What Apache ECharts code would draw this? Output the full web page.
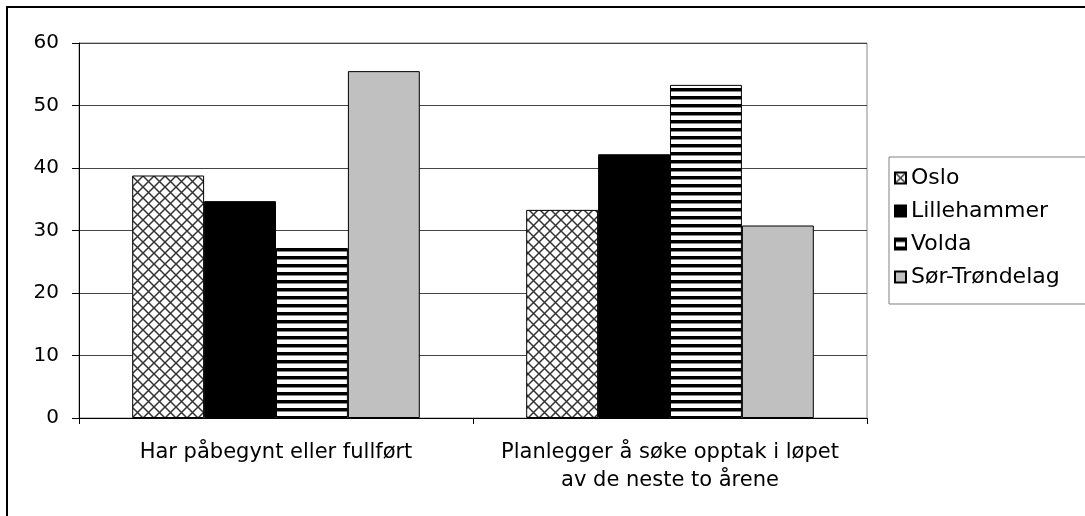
<!DOCTYPE html>
<html>
<head>
<meta charset="utf-8">
<script src="https://cdn.jsdelivr.net/npm/echarts@6/dist/echarts.min.js"></script>
<style>
  html, body { margin: 0; padding: 0; background: #fff; }
  #chart { width: 1085px; height: 516px; }
</style>
</head>
<body>
<div id="chart"></div>
<script>
// Categories and values per region (percent)
const categories = ['Har påbegynt eller fullført', 'Planlegger å søke opptak i løpet\nav de neste to årene'];
const seriesNames = ['Oslo', 'Lillehammer', 'Volda', 'Sør-Trøndelag'];
const oslo = [38.8, 33.3];
const lillehammer = [34.7, 42.2];
const volda = [27.2, 53.3];
const sorTrondelag = [55.5, 30.8];
const yTicks = [0, 10, 20, 30, 40, 50, 60];

// Fill patterns
function crossHatch() {
  const s = 11;
  const c = document.createElement('canvas');
  c.width = s; c.height = s;
  const g = c.getContext('2d');
  g.fillStyle = '#fff'; g.fillRect(0, 0, s, s);
  g.strokeStyle = '#333'; g.lineWidth = 1.5;
  g.beginPath();
  g.moveTo(0, 0); g.lineTo(s, s);
  g.moveTo(s, 0); g.lineTo(0, s);
  g.stroke();
  return { image: c, repeat: 'repeat' };
}
function hStripes() {
  const c = document.createElement('canvas');
  c.width = 8; c.height = 8;
  const g = c.getContext('2d');
  g.fillStyle = '#fff'; g.fillRect(0, 0, 8, 8);
  g.fillStyle = '#000'; g.fillRect(0, 0, 8, 3);
  g.fillStyle = '#888'; g.fillRect(0, 3, 8, 1);
  return { image: c, repeat: 'repeat' };
}

const fills = [crossHatch(), '#000000', hStripes(), '#c0c0c0'];
const values = [oslo, lillehammer, volda, sorTrondelag];

const font = '"DejaVu Sans", Verdana, sans-serif';

const chart = echarts.init(document.getElementById('chart'), null, { renderer: 'canvas' });
chart.setOption({
  animation: false,
  backgroundColor: '#fff',
  textStyle: { fontFamily: font },
  graphic: [{
    type: 'rect',
    shape: { x: 7, y: 7, width: 1200, height: 600 },
    style: { fill: 'none', stroke: '#000', lineWidth: 2 },
    silent: true, z: -10
  }],
  grid: {
    left: 79, top: 43, right: 218, bottom: 98,
    show: true, borderColor: '#888', borderWidth: 1, backgroundColor: 'transparent'
  },
  legend: {
    orient: 'vertical',
    left: 889, top: 157,
    width: 200,
    padding: [10, 200, 16, 5],
    itemGap: 11,
    itemWidth: 11, itemHeight: 11,
    borderColor: '#808080', borderWidth: 1,
    icon: 'rect',
    textStyle: { fontFamily: font, fontSize: 22, color: '#000' },
    data: seriesNames
  },
  xAxis: {
    type: 'category',
    data: categories,
    axisLine: { lineStyle: { color: '#000', width: 1 } },
    axisTick: { show: true, length: 6, alignWithLabel: false, lineStyle: { color: '#000' } },
    axisLabel: { fontFamily: font, fontSize: 21, color: '#000', margin: 21, lineHeight: 28, interval: 0 },
    splitLine: { show: false }
  },
  yAxis: {
    type: 'value',
    min: 0, max: 60, interval: 10,
    axisLine: { show: true, lineStyle: { color: '#000', width: 1 } },
    axisTick: { show: true, length: 7, lineStyle: { color: '#000' } },
    axisLabel: { fontFamily: font, fontSize: 20, color: '#000', margin: 20,
      formatter: v => (yTicks.indexOf(v) >= 0 ? String(v) : '') },
    splitLine: { show: true, lineStyle: { color: '#444', width: 1 } }
  },
  series: seriesNames.map((name, i) => ({
    name: name,
    type: 'bar',
    data: values[i],
    barGap: '0%',
    barCategoryGap: '27%',
    itemStyle: { color: fills[i], borderColor: '#000', borderWidth: 1 }
  }))
});
</script>
</body>
</html>
